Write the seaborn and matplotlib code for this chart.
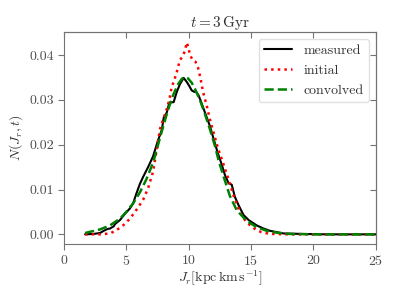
import matplotlib
matplotlib.use("Agg")
import matplotlib.pyplot as plt
import seaborn as sns

# measured distribution
jr_meas = [1.7, 2.4, 2.9, 3.2, 3.5, 3.7, 4.0, 4.1, 4.5, 4.9, 5.3, 5.55, 5.8,
           6.1, 6.35, 6.75, 7.15, 7.55, 7.85, 8.0, 8.25, 8.45, 8.8, 9.05, 9.3,
           9.6, 9.85, 10.05, 10.25, 10.45, 10.6, 10.8, 10.95, 11.2, 11.45,
           11.7, 12.0, 12.35, 12.65, 12.9, 13.2, 13.45, 13.7, 14.0, 14.4,
           14.8, 15.45, 16.0, 16.5, 17.6, 19.0, 21.0, 23.0, 25.0]
n_meas = [0.0, 0.0001, 0.0003, 0.0008, 0.0012, 0.0013, 0.0018, 0.0023,
          0.0032, 0.0046, 0.0058, 0.0069, 0.0090, 0.0113, 0.0128, 0.0150,
          0.0174, 0.0210, 0.0233, 0.0260, 0.0272, 0.0294, 0.0295, 0.0318,
          0.0335, 0.0349, 0.0340, 0.0331, 0.0321, 0.0318, 0.0318, 0.0310,
          0.0299, 0.0280, 0.0261, 0.0242, 0.0213, 0.0180, 0.0156, 0.0133,
          0.0114, 0.0111, 0.0084, 0.0065, 0.0043, 0.0032, 0.0020, 0.0013,
          0.0008, 0.0002, 0.0001, 0.0, 0.0, 0.0]

# initial distribution
jr_init = [1.7, 2.9, 3.7, 4.2, 4.75, 5.3, 5.8, 6.35, 6.75, 7.15, 7.45, 7.7,
           8.0, 8.25, 8.45, 8.65, 8.8, 9.05, 9.3, 9.55, 9.7, 9.85, 10.0, 10.1,
           10.35, 10.55, 10.75, 10.95, 11.15, 11.45, 11.7, 12.0, 12.35, 12.75,
           13.2, 13.6, 14.1, 14.6, 15.2, 15.8, 16.5, 18.0, 20.0, 22.0, 25.0]
n_init = [0.0, 0.0, 0.0002, 0.0009, 0.0020, 0.0035, 0.0054, 0.0077, 0.0103,
          0.0140, 0.0190, 0.0235, 0.0260, 0.0280, 0.0300, 0.0330, 0.0340,
          0.0362, 0.0389, 0.0398, 0.0410, 0.0428, 0.0415, 0.0400, 0.0388,
          0.0385, 0.0372, 0.0348, 0.0318, 0.0287, 0.0257, 0.0227, 0.0192,
          0.0160, 0.0122, 0.0086, 0.0050, 0.0028, 0.0014, 0.0005, 0.0001,
          0.0, 0.0, 0.0, 0.0]

# convolved distribution
jr_conv = [1.7, 2.3, 2.9, 3.7, 4.5, 5.0, 5.55, 6.1, 6.6, 7.15, 7.55, 7.95,
           8.35, 8.75, 9.15, 9.45, 9.7, 9.95, 10.25, 10.5, 10.9, 11.3, 11.7,
           12.1, 12.4, 12.8, 13.3, 13.85, 14.65, 15.45, 16.25, 17.0, 18.0,
           20.0, 22.0, 25.0]
n_conv = [0.0003, 0.0007, 0.0011, 0.0020, 0.0035, 0.0050, 0.0069, 0.0094,
          0.0122, 0.0160, 0.0200, 0.0240, 0.0278, 0.0310, 0.0335, 0.0347,
          0.0351, 0.0348, 0.0338, 0.0325, 0.0300, 0.0269, 0.0235, 0.0198,
          0.0165, 0.0129, 0.0086, 0.0054, 0.0030, 0.0016, 0.0008, 0.0004,
          0.0001, 0.0, 0.0, 0.0]

x_ticks = [0, 5, 10, 15, 20, 25]
y_ticks = [0.00, 0.01, 0.02, 0.03, 0.04]

sns.set_style("ticks")
plt.rcParams.update({
    "font.family": "serif",
    "font.serif": ["cmr10", "DejaVu Serif"],
    "mathtext.fontset": "cm",
    "axes.formatter.use_mathtext": True,
    "axes.unicode_minus": False,
    "font.size": 10,
    "text.color": "0.2",
    "axes.labelcolor": "0.2",
    "axes.edgecolor": "0.45",
    "xtick.color": "0.45",
    "ytick.color": "0.45",
    "xtick.labelcolor": "0.3",
    "ytick.labelcolor": "0.3",
})

fig = plt.figure(figsize=(3.99, 2.99), dpi=100)
ax = fig.add_axes([0.160, 0.184, 0.782, 0.709])

sns.lineplot(x=jr_meas, y=n_meas, color="black", lw=1.5, label="measured",
             ax=ax)
sns.lineplot(x=jr_init, y=n_init, color="red", lw=1.8, ls=":",
             label="initial", ax=ax)
sns.lineplot(x=jr_conv, y=n_conv, color="green", lw=1.8, ls="--",
             label="convolved", ax=ax)

ax.set_xlim(0, 25)
ax.set_ylim(-0.00215, 0.04515)
ax.set_xticks(x_ticks)
ax.set_yticks(y_ticks)
ax.set_yticklabels([f"{v:.2f}" for v in y_ticks])
ax.tick_params(axis="both", which="major", labelsize=10, length=4,
               width=0.8, direction="out", pad=3)
ax2 = ax.secondary_xaxis("top")
ax2.set_xticks(x_ticks)
ax2.tick_params(direction="in", length=4, labeltop=False, width=0.8)
ax3 = ax.secondary_yaxis("right")
ax3.set_yticks(y_ticks)
ax3.tick_params(direction="in", length=4, labelright=False, width=0.8)

ax.set_title(r"$t = 3\,\mathrm{Gyr}$", fontsize=11, pad=3)
ax.set_xlabel(r"$J_r[\mathrm{kpc\,km\,s^{-1}}]$", fontsize=10, labelpad=1)
ax.set_ylabel(r"$N(J_r, t)$", fontsize=10, labelpad=3)

leg = ax.legend(loc="upper right", fontsize=10, frameon=True)
leg.get_frame().set_edgecolor("0.85")

fig.savefig("out.png", dpi=100)
plt.close(fig)
